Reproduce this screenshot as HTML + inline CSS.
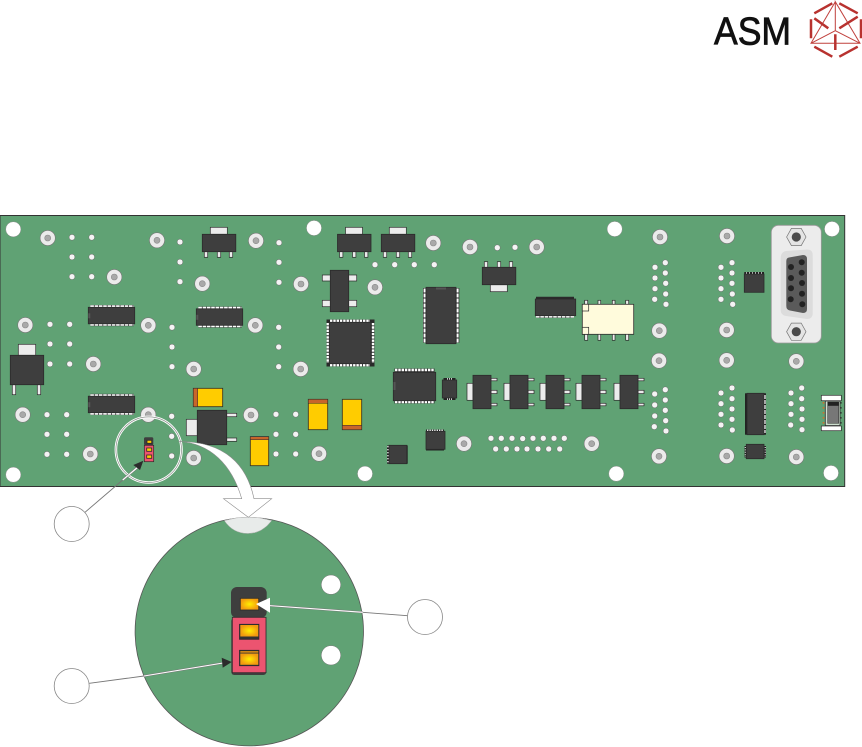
<!DOCTYPE html>
<html>
<head>
<meta charset="utf-8">
<style>
html,body{margin:0;padding:0;background:#fff;}
svg{display:block;}
.d{fill:#3e3e3e;stroke:#2b2b2b;stroke-width:.8;}
.w{fill:#ececec;stroke:#2b2b2b;stroke-width:.7;}
.y{fill:#ffcc00;stroke:#2b2b2b;stroke-width:.8;}
.o{fill:#c8652a;stroke:#2b2b2b;stroke-width:.5;}
.p{stroke:#fff;stroke-width:2;stroke-dasharray:3.6 .7;}
.k{stroke:#222;stroke-width:2.6;}
.r{stroke:#b8322f;stroke-width:2.5;fill:none;}
.t{stroke:#c0403c;stroke-width:1;fill:none;}
</style>
</head>
<body>
<svg width="862" height="747" viewBox="0 0 862 747" xmlns="http://www.w3.org/2000/svg">
<defs>
<g id="P"><circle r="7.6" fill="#ebebeb" stroke="#777" stroke-width=".6"/><circle r="3" fill="#a9a9a9" stroke="#888" stroke-width=".6"/></g>
<circle id="s" r="2.9" fill="#f4f4f4" stroke="#666" stroke-width=".5"/>
<circle id="h" r="7.6" fill="#fff" stroke="#777" stroke-width=".4"/>
<g id="sot"><rect class="w" x="8" y="-7" width="17" height="7"/><rect class="w" x="2" y="17" width="3.4" height="6"/><rect class="w" x="15" y="17" width="3.4" height="6"/><rect class="w" x="27" y="17" width="3.4" height="6"/><rect class="d" x="0" y="0" width="33.5" height="17.4"/></g>
<g id="vs"><rect class="w" x="-6" y="8" width="6" height="17"/><rect class="w" x="18" y="3" width="6" height="2.5"/><rect class="w" x="18" y="15" width="6" height="3.3"/><rect class="w" x="18" y="28" width="6" height="2.5"/><rect class="d" x="0" y="0" width="18" height="33.4"/></g>
<g id="dip"><line x1="2" x2="45.5" y1="-1" y2="-1" class="k"/><line x1="2" x2="45.5" y1="17.5" y2="17.5" class="k"/><line x1="2" x2="45.5" y1="-1" y2="-1" class="p"/><line x1="2" x2="45.5" y1="17.5" y2="17.5" class="p"/><rect class="d" x="0" y="0" width="46.4" height="16.5"/><rect x="0" y="6" width="2" height="5" fill="#555"/></g>
<radialGradient id="g"><stop offset="0" stop-color="#ffee00"/><stop offset="1" stop-color="#f29a10"/></radialGradient>
</defs>

<!-- logo -->
<text x="714" y="44.5" font-family="'Liberation Sans',sans-serif" font-size="38.5" fill="#111" stroke="#111" stroke-width=".8" textLength="77" lengthAdjust="spacingAndGlyphs">ASM</text>
<path class="t" d="M835.3 1.7L811 43.3H860L835.3 1.7V30.7M811 43.3L835.3 30.7L860 43.3"/>
<path class="r" d="M814.3 13.3L832.3 3.3M839.3 3.3L857.7 13.3M811 19.3V38.3M861 19.3V38.3M814.3 46.7L832.3 56.7M839.3 56.7L857.7 46.7M814.3 18.3L828.3 28.3M839.3 28.3L857.7 16.7M835.3 34.3V50"/>

<!-- board -->
<rect x="0" y="215.5" width="844.7" height="271" fill="#60a274" stroke="#333" stroke-width="1"/>

<!-- holes -->
<use href="#h" x="13.3" y="229.3"/><use href="#h" x="13.3" y="474.7"/><use href="#h" x="314" y="228"/><use href="#h" x="365" y="473.7"/><use href="#h" x="614.7" y="229"/><use href="#h" x="616.3" y="473.7"/><use href="#h" x="832" y="229"/><use href="#h" x="831" y="473"/>

<!-- large pads -->
<use href="#P" x="47.7" y="238"/><use href="#P" x="157" y="240.3"/><use href="#P" x="256" y="240.7"/><use href="#P" x="114.3" y="277"/><use href="#P" x="202.3" y="283.7"/><use href="#P" x="25.3" y="325"/><use href="#P" x="148.3" y="325.3"/><use href="#P" x="255.3" y="325.3"/><use href="#P" x="93.3" y="364"/><use href="#P" x="193.7" y="369"/><use href="#P" x="22.7" y="414.7"/><use href="#P" x="148.3" y="414.7"/><use href="#P" x="251" y="415"/><use href="#P" x="90.3" y="454"/><use href="#P" x="193.7" y="458"/>
<use href="#P" x="433.3" y="243"/><use href="#P" x="470" y="247"/><use href="#P" x="536.7" y="247"/><use href="#P" x="301" y="284"/><use href="#P" x="375" y="287.3"/><use href="#P" x="300.7" y="369"/><use href="#P" x="319" y="453.7"/><use href="#P" x="464" y="443.7"/>
<use href="#P" x="660" y="237"/><use href="#P" x="727" y="236"/><use href="#P" x="659.3" y="330.7"/><use href="#P" x="726.7" y="330"/><use href="#P" x="659" y="360.7"/><use href="#P" x="726.7" y="360.3"/><use href="#P" x="796.3" y="361.3"/><use href="#P" x="591.7" y="443.7"/><use href="#P" x="659" y="456.3"/><use href="#P" x="726.7" y="456"/><use href="#P" x="796.3" y="457"/>

<!-- small pads -->
<use href="#s" x="72" y="237.3"/><use href="#s" x="91.7" y="237.3"/><use href="#s" x="72" y="257"/><use href="#s" x="91.7" y="257"/><use href="#s" x="72" y="276.7"/><use href="#s" x="91.7" y="276.7"/>
<use href="#s" x="180" y="242"/><use href="#s" x="180" y="262"/><use href="#s" x="180" y="281.7"/>
<use href="#s" x="279" y="242.7"/><use href="#s" x="279" y="262.3"/><use href="#s" x="279" y="282.3"/>
<use href="#s" x="50" y="324.3"/><use href="#s" x="69.7" y="324.3"/><use href="#s" x="50" y="344"/><use href="#s" x="69.7" y="344"/><use href="#s" x="50" y="364"/><use href="#s" x="69.7" y="364"/>
<use href="#s" x="172" y="327.3"/><use href="#s" x="172" y="347"/><use href="#s" x="172" y="366.7"/>
<use href="#s" x="278.7" y="327.3"/><use href="#s" x="278.7" y="347"/><use href="#s" x="278.7" y="366.7"/>
<use href="#s" x="47" y="414.7"/><use href="#s" x="66.7" y="414.7"/><use href="#s" x="47" y="434.3"/><use href="#s" x="66.7" y="434.3"/><use href="#s" x="47" y="454.3"/><use href="#s" x="66.7" y="454.3"/>
<use href="#s" x="171.7" y="416.3"/><use href="#s" x="171.7" y="436.3"/><use href="#s" x="171.7" y="456"/>
<use href="#s" x="276" y="414.3"/><use href="#s" x="276" y="434.3"/><use href="#s" x="276" y="454"/>
<use href="#s" x="295.7" y="414.3"/><use href="#s" x="295.7" y="434.3"/><use href="#s" x="295.7" y="454"/>
<use href="#s" x="375" y="264.7"/><use href="#s" x="394.7" y="264.7"/><use href="#s" x="414.3" y="264.7"/><use href="#s" x="434.3" y="264.7"/>
<use href="#s" x="497.3" y="247.7"/><use href="#s" x="515" y="247.3"/>
<use href="#s" x="491" y="438.3"/><use href="#s" x="501.3" y="438.3"/><use href="#s" x="512" y="438.3"/><use href="#s" x="522.7" y="438.6"/><use href="#s" x="533" y="438.3"/><use href="#s" x="543.3" y="438.3"/><use href="#s" x="554" y="438.3"/><use href="#s" x="564.3" y="438.3"/>
<use href="#s" x="495.7" y="449"/><use href="#s" x="506.3" y="449"/><use href="#s" x="517" y="449"/><use href="#s" x="527" y="449"/><use href="#s" x="538" y="449"/><use href="#s" x="548.7" y="449"/><use href="#s" x="559.7" y="449"/>
<use href="#s" x="655" y="267.3"/><use href="#s" x="655" y="278"/><use href="#s" x="655" y="288.7"/><use href="#s" x="654.7" y="299.3"/>
<use href="#s" x="665.3" y="262.7"/><use href="#s" x="665.3" y="273"/><use href="#s" x="665.7" y="283.3"/><use href="#s" x="665.7" y="294"/><use href="#s" x="666" y="304.3"/>
<use href="#s" x="721" y="267.3"/><use href="#s" x="721" y="278"/><use href="#s" x="721" y="288.7"/><use href="#s" x="721" y="299.3"/>
<use href="#s" x="732" y="262.7"/><use href="#s" x="732" y="273"/><use href="#s" x="732" y="283.3"/><use href="#s" x="732.3" y="294"/><use href="#s" x="732.7" y="304.3"/>
<use href="#s" x="654.7" y="394"/><use href="#s" x="654.7" y="405"/><use href="#s" x="654.7" y="416"/><use href="#s" x="654.3" y="426.7"/>
<use href="#s" x="665.3" y="389.7"/><use href="#s" x="665.3" y="400"/><use href="#s" x="665.3" y="410.3"/><use href="#s" x="665.7" y="420.7"/><use href="#s" x="666" y="431"/>
<use href="#s" x="721" y="393"/><use href="#s" x="721" y="403.7"/><use href="#s" x="721" y="414.3"/><use href="#s" x="721" y="425"/>
<use href="#s" x="732" y="388"/><use href="#s" x="732" y="398.7"/><use href="#s" x="732" y="409"/><use href="#s" x="732" y="419.3"/><use href="#s" x="732.3" y="430"/>
<use href="#s" x="791" y="393"/><use href="#s" x="791" y="403.7"/><use href="#s" x="791" y="414.3"/><use href="#s" x="790.7" y="425"/>
<use href="#s" x="801.7" y="388"/><use href="#s" x="801.7" y="398.7"/><use href="#s" x="802" y="409"/><use href="#s" x="802" y="419.3"/><use href="#s" x="802" y="429.7"/>

<!-- SOTs -->
<use href="#sot" x="202.3" y="234.3"/>
<use href="#sot" x="337.5" y="234.3"/>
<use href="#sot" x="381.3" y="234.3"/>
<g transform="translate(482.3,284.7) scale(1,-1)"><use href="#sot"/></g>
<rect class="w" x="18.3" y="344.3" width="17.4" height="11"/><rect class="w" x="12.3" y="384.7" width="3.4" height="10"/><rect class="w" x="37.3" y="384.7" width="3.4" height="10"/><rect class="d" x="10.3" y="355.3" width="33.4" height="29.4"/>
<rect class="w" x="186.3" y="419.3" width="11" height="16.4"/><rect class="w" x="226.7" y="413.3" width="10" height="3.4"/><rect class="w" x="226.7" y="438" width="10" height="3.3"/><rect class="d" x="197.3" y="410.3" width="29.4" height="34.4"/>
<use href="#vs" x="473" y="375.3"/><use href="#vs" x="510" y="375.3"/><use href="#vs" x="546" y="375.3"/><use href="#vs" x="582" y="375.3"/><use href="#vs" x="620" y="375.3"/>

<!-- DIP horizontal -->
<use href="#dip" x="88.3" y="307.3"/>
<use href="#dip" x="196.3" y="308.8"/>
<use href="#dip" x="88.3" y="396.2"/>
<g><line x1="536" x2="574" y1="298" y2="298" stroke="#2b2b2b" stroke-width="2.4"/><line x1="536" x2="574" y1="316.6" y2="316.6" class="k"/><line x1="536" x2="574" y1="316.6" y2="316.6" class="p"/><rect class="d" x="535.3" y="299" width="40.4" height="16.7"/></g>

<!-- vertical SO -->
<rect class="w" x="322.3" y="275" width="34.4" height="6"/><rect class="w" x="322.3" y="300.3" width="34.4" height="6.4"/><rect class="d" x="330.3" y="270.3" width="18.4" height="41.4"/>

<!-- QFP -->
<rect x="326.5" y="319.5" width="48" height="47" fill="#2a2a2a"/>
<line x1="330" x2="370" y1="320.8" y2="320.8" stroke="#fff" stroke-width="2.4" stroke-dasharray="2.4 .9"/>
<line x1="330" x2="370" y1="365.2" y2="365.2" stroke="#fff" stroke-width="2.4" stroke-dasharray="2.4 .9"/>
<line x1="327.8" x2="327.8" y1="323" y2="363" stroke="#fff" stroke-width="2.4" stroke-dasharray="2.4 .9"/>
<line x1="373" x2="373" y1="323" y2="363" stroke="#fff" stroke-width="2.4" stroke-dasharray="2.4 .9"/>
<rect class="d" x="329.3" y="322.3" width="41.7" height="41.4"/>

<!-- DIP vertical -->
<rect x="423" y="288" width="36.3" height="54.8" fill="#2a2a2a"/>
<line x1="424.6" x2="424.6" y1="288.5" y2="342.5" stroke="#fff" stroke-width="2" stroke-dasharray="4 1"/>
<line x1="457.6" x2="457.6" y1="288.5" y2="342.5" stroke="#fff" stroke-width="2" stroke-dasharray="4 1"/>
<rect class="d" x="426" y="287.3" width="30" height="56.4"/><rect x="436" y="287.5" width="10" height="2" fill="#555"/>

<!-- TSOP -->
<rect x="394.5" y="368.5" width="40" height="35" fill="#2a2a2a"/>
<line x1="395" x2="434.5" y1="370" y2="370" stroke="#fff" stroke-width="2.4" stroke-dasharray="2.4 .9"/>
<line x1="395" x2="434.5" y1="402" y2="402" stroke="#fff" stroke-width="2.4" stroke-dasharray="2.4 .9"/>
<rect class="d" x="393.3" y="372.3" width="42.4" height="28.4"/><rect x="393.5" y="382" width="2" height="8" fill="#555"/>

<!-- small ICs -->
<rect x="443.5" y="378" width="12" height="22" fill="#222"/>
<line x1="447" x2="453" y1="379" y2="379" stroke="#fff" stroke-width="1.4" stroke-dasharray="1 1"/>
<line x1="447" x2="453" y1="399" y2="399" stroke="#fff" stroke-width="1.4" stroke-dasharray="1 1"/>
<rect class="d" x="442.3" y="380" width="14.4" height="18"/>

<rect x="426" y="429.5" width="18" height="21" fill="#222"/>
<line x1="427" x2="443" y1="430.3" y2="430.3" stroke="#fff" stroke-width="1.4" stroke-dasharray="1.4 1"/>
<rect class="d" x="426" y="431.3" width="19" height="18"/>

<rect x="387" y="445.5" width="20.7" height="18.2" fill="#222"/>
<line x1="388" x2="388" y1="446" y2="463" stroke="#fff" stroke-width="1.4" stroke-dasharray="1.4 1.6"/>
<rect class="d" x="389" y="445.3" width="17.8" height="18.4"/>

<rect x="744.3" y="272" width="19.7" height="20.3" fill="#222"/>
<line x1="746" x2="762" y1="273" y2="273" stroke="#fff" stroke-width="1.2" stroke-dasharray="1 2"/>
<rect class="d" x="744.3" y="274" width="19.7" height="18.3"/>

<rect x="745" y="393.3" width="21" height="41.4" fill="#222"/>
<line x1="764.8" x2="764.8" y1="395" y2="433" stroke="#fff" stroke-width="1.6" stroke-dasharray="4 1"/>
<rect class="d" x="747" y="393.3" width="17" height="41.4"/>
<rect x="744.5" y="446" width="21.5" height="11.5" fill="#222"/>
<line x1="745.3" x2="745.3" y1="447" y2="457" stroke="#fff" stroke-width="1" stroke-dasharray="1 1.4"/>
<line x1="765.2" x2="765.2" y1="447" y2="457" stroke="#fff" stroke-width="1" stroke-dasharray="1 1.4"/>
<rect class="d" x="746.3" y="444.3" width="17.7" height="14.4"/>

<!-- tantalum caps -->
<rect class="y" x="193.3" y="388.3" width="29.4" height="18.4"/><rect class="o" x="193.3" y="388.3" width="4.4" height="18.4"/>
<rect class="y" x="250.3" y="436.7" width="18.4" height="29"/><rect class="o" x="250.3" y="436.7" width="18.4" height="3"/>
<rect class="y" x="308.3" y="399.3" width="19.4" height="30.4"/><rect class="o" x="308.3" y="399.3" width="19.4" height="4"/>
<rect class="y" x="342.3" y="399.3" width="19.4" height="30.4"/><rect class="o" x="342.3" y="425.3" width="19.4" height="4.4"/>

<!-- relay -->
<g><rect class="w" x="584.7" y="300.3" width="3" height="40"/><rect class="w" x="598" y="300.3" width="2.7" height="40"/><rect class="w" x="612.3" y="300.3" width="2.7" height="40"/><rect class="w" x="625.7" y="300.3" width="3" height="40"/>
<rect x="582.3" y="304.3" width="51.4" height="30" fill="#fffbdc" stroke="#2b2b2b" stroke-width=".8"/>
<rect x="582.3" y="304.3" width="6.4" height="6.7" fill="#fffbdc" stroke="#2b2b2b" stroke-width=".7"/><rect x="582.3" y="327.3" width="6.4" height="7" fill="#fffbdc" stroke="#2b2b2b" stroke-width=".7"/></g>

<!-- D-sub -->
<rect x="771.3" y="225.3" width="50" height="117.7" rx="7" fill="#ececec" stroke="#999" stroke-width=".8"/>
<path d="M786 251L807 249.5Q812.7 249.5 812.7 255V313Q812.7 319 807 319L786 316Q780.7 315 780.7 310V258Q780.7 252 786 251Z" fill="#dcdcdc"/>
<path d="M789 257.5L803 255Q807 255 807 259V309Q807 313 803 313L790 310.5Q786.3 310 786.3 306V261Q786.3 258 789 257.5Z" fill="#5a5a5a"/>
<g fill="#222"><circle cx="791" cy="267" r="3"/><circle cx="791" cy="278" r="3"/><circle cx="791" cy="288.3" r="3"/><circle cx="790.7" cy="299.3" r="3"/><circle cx="801.7" cy="262.3" r="3"/><circle cx="801.7" cy="272.7" r="3"/><circle cx="802" cy="283" r="3"/><circle cx="802" cy="293.7" r="3"/><circle cx="802.3" cy="304.3" r="3"/></g>
<polygon points="786.6,237 791.4,228.4 801.2,228.4 806,237 801.2,245.6 791.4,245.6" fill="#e4e4e4" stroke="#777" stroke-width=".7"/><circle cx="796.3" cy="237" r="4.6" fill="#4a4a4a"/>
<polygon points="786.6,331.7 791.4,323.1 801.2,323.1 806,331.7 801.2,340.3 791.4,340.3" fill="#e4e4e4" stroke="#777" stroke-width=".7"/><circle cx="796.3" cy="331.7" r="4.6" fill="#4a4a4a"/>

<!-- right connector -->
<rect x="823.5" y="400.7" width="17.8" height="25.3" fill="#60a274"/>
<line x1="823.5" x2="823.5" y1="402" y2="424" stroke="#d2702c" stroke-width="1.6" stroke-dasharray="1.6 3.4"/>
<line x1="841" x2="841" y1="402" y2="424" stroke="#333" stroke-width="1.2" stroke-dasharray="1.6 3.4"/>
<rect x="825.3" y="401" width="14.7" height="24.6" fill="#cfe0d0" stroke="#2b2b2b" stroke-width=".8"/>
<rect x="827.7" y="402" width="11" height="21.3" fill="#777" stroke="#2b2b2b" stroke-width=".5"/><rect x="827.7" y="402" width="11" height="3.8" fill="#222"/>
<rect x="821.3" y="395.3" width="20" height="5.4" fill="#fff" stroke="#2b2b2b" stroke-width=".7"/><rect x="821.3" y="426" width="20" height="4.7" fill="#fff" stroke="#2b2b2b" stroke-width=".7"/>

<!-- small jumper on board -->
<rect x="144" y="437.3" width="9.3" height="8" rx="1.5" fill="#3e3e3e"/>
<rect x="144.3" y="445.3" width="9.4" height="16.4" fill="#ec5470" stroke="#2b2b2b" stroke-width=".7"/>
<rect class="y" x="147" y="440.3" width="4.7" height="3" stroke-width=".5"/><rect class="y" x="146.7" y="448" width="5" height="3.3" stroke-width=".5"/><rect class="y" x="146.7" y="455" width="5" height="3.3" stroke-width=".5"/>

<!-- magnifier ring -->
<circle cx="148.7" cy="449.7" r="32.8" fill="none" stroke="#fff" stroke-width="2.6"/>
<circle cx="148.7" cy="449.7" r="32.8" fill="none" stroke="#8a8f8b" stroke-width=".7"/>

<!-- big circle -->
<circle cx="249.3" cy="631.7" r="114.2" fill="#60a274" stroke="#555" stroke-width=".8"/>
<path d="M224.3 520.6Q248.5 513.5 271.7 520.6Q262 533.5 248 533.5Q233 533.5 224.3 520.6Z" fill="#e8ebea" stroke="#aaa" stroke-width=".5"/>
<circle cx="331" cy="584.7" r="9.7" fill="#fff" stroke="#777" stroke-width=".5"/>
<circle cx="331" cy="655.3" r="9.7" fill="#fff" stroke="#777" stroke-width=".5"/>

<!-- curved arrow -->
<path d="M178 441.5C225 441 247 465 254 498.7H271.7L248.3 517.3L223.5 498.7H241.7C232 465 210 442.5 178 441.5Z" fill="#fff" stroke="#8a8a8a" stroke-width=".6"/>

<!-- big jumper -->
<rect x="231" y="587" width="35.7" height="31" rx="6" fill="#3e3e3e"/>
<rect x="231.3" y="618" width="35" height="57" rx="3" fill="#3e3e3e"/>
<rect x="232.3" y="617.3" width="33.7" height="55.4" fill="#ec5470" stroke="#2b2b2b" stroke-width=".8"/>
<rect x="240.3" y="598.3" width="18.4" height="11.7" fill="url(#g)" stroke="#2b2b2b" stroke-width=".8"/>
<rect x="239.5" y="624.3" width="19.4" height="15" fill="#333" stroke="#2b2b2b" stroke-width=".8"/><rect x="240.3" y="625" width="18" height="11.5" fill="url(#g)"/>
<rect x="239.5" y="650.3" width="19.4" height="15.4" fill="#333" stroke="#2b2b2b" stroke-width=".8"/><rect x="240.3" y="651.2" width="18" height="1.4" fill="#f29a10"/><rect x="240.3" y="653.5" width="18" height="11.3" fill="url(#g)"/>

<!-- leader lines -->
<path d="M85 512.3L122.7 480" stroke="#777" stroke-width=".9" fill="none"/>
<path d="M122.7 480L138 467" stroke="#777" stroke-width="2.2" fill="none"/><path d="M122.7 480L138 467" stroke="#fff" stroke-width="1.2" fill="none"/>
<polygon points="133.3,465 143.3,460.7 140,470" fill="#2b2b2b"/>

<path d="M89.3 683.3L144 676" stroke="#777" stroke-width=".9" fill="none"/>
<path d="M144 676L223 663" stroke="#777" stroke-width="2" fill="none"/><path d="M144 676L223 663" stroke="#fff" stroke-width="1.1" fill="none"/>
<polygon points="221.7,657.7 231.7,662 222.7,667.7" fill="#2b2b2b"/>

<path d="M407.3 615.7L362.7 612.3" stroke="#777" stroke-width=".9" fill="none"/>
<path d="M362.7 612.3L268 605.5" stroke="#777" stroke-width="2" fill="none"/><path d="M362.7 612.3L268 605.5" stroke="#fff" stroke-width="1.1" fill="none"/>
<polygon points="270,597.7 256,604 270,612.7" fill="#fff"/>

<!-- callout circles -->
<circle cx="71.7" cy="524" r="17.5" fill="#fff" stroke="#888" stroke-width=".8"/>
<circle cx="71.7" cy="686" r="17.5" fill="#fff" stroke="#888" stroke-width=".8"/>
<circle cx="425" cy="617" r="17.5" fill="#fff" stroke="#888" stroke-width=".8"/>
</svg>
</body>
</html>
